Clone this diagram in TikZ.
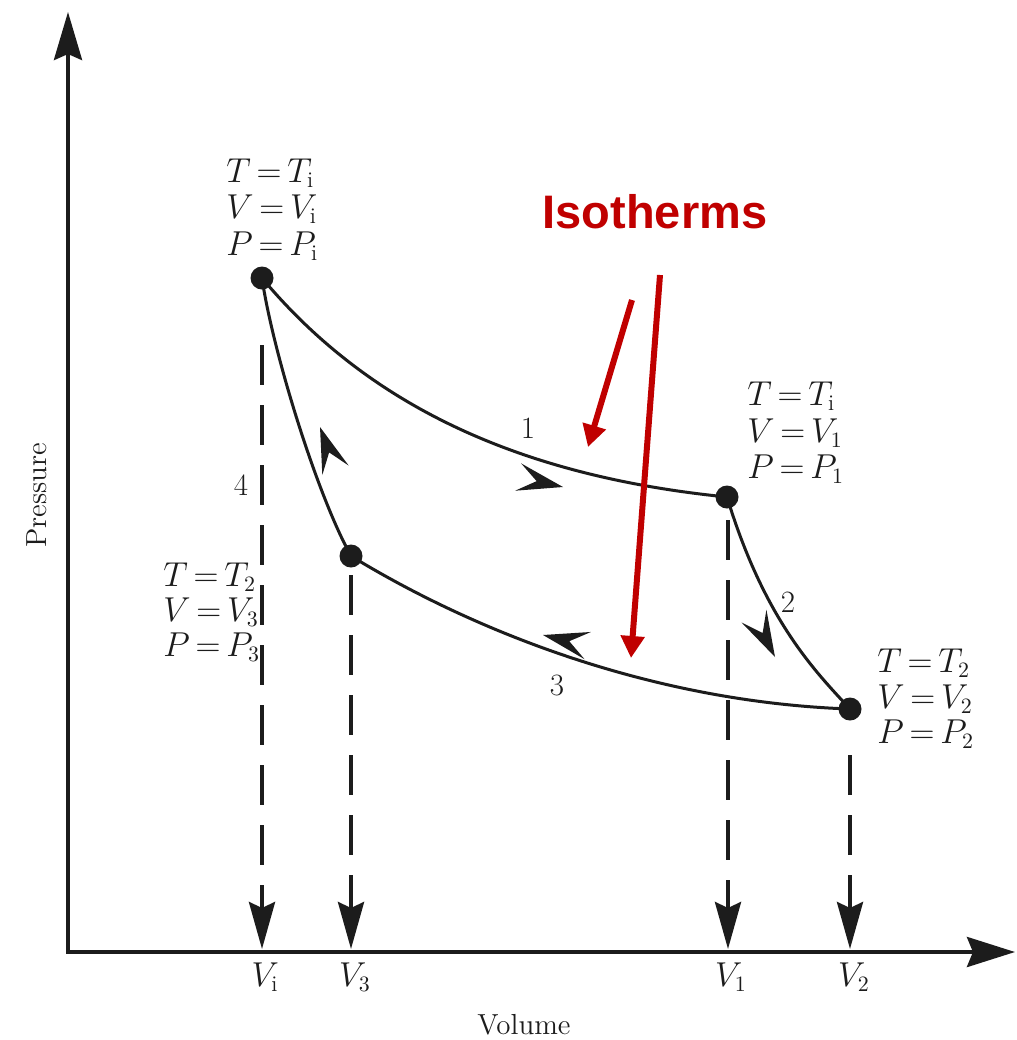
\documentclass[tikz,border=0pt]{standalone}
\usepackage{fontspec}
\setsansfont{Liberation Sans}
\usetikzlibrary{arrows.meta}
\definecolor{isored}{RGB}{192,0,0}
\definecolor{ink}{RGB}{28,28,28}
\newcommand\cyclehead[2]{\fill[ink,shift={#1},rotate=#2] (0,0) -- (-46,14) -- (-27,0) -- (-46,-14) -- cycle;}
\begin{document}
\begin{tikzpicture}[x=0.5pt,y=-0.5pt,
  dot/.style={circle,fill=ink,inner sep=0pt,minimum size=11.5pt},
  curve/.style={ink,line width=1.5pt},
  axisline/.style={ink,line width=2pt,line join=miter},
  dropline/.style={ink,line width=2pt,dash pattern=on 20pt off 10pt,-{Stealth[length=23.5pt,width=13pt,inset=3pt]}},
  redarrow/.style={isored,line width=3pt,-{Triangle[length=11pt,width=11.5pt]}},
  lbl/.style={ink,font=\fontsize{16}{19}\selectfont,inner sep=0pt,anchor=base west},
  axlbl/.style={ink,font=\fontsize{16}{19}\selectfont,inner sep=0pt,anchor=base},
  num/.style={ink,font=\fontsize{15.5}{18}\selectfont,inner sep=0pt},
  title/.style={ink,font=\fontsize{14.5}{17}\selectfont,inner sep=0pt}]
\useasboundingbox[fill=white] (0,0) rectangle (1017,1040);

% axes
\coordinate (ytop) at (68,12);
\coordinate (O) at (68,952);
\coordinate (xend) at (1015,952);
\draw[axisline,{Stealth[length=24pt,width=14pt,inset=3pt]}-{Stealth[length=24pt,width=15pt,inset=3pt]}] (ytop) -- (O) -- (xend);

% state points
\node[dot] (Pi) at (262,278) {};
\node[dot] (P1) at (727,497) {};
\node[dot] (P2) at (850,709) {};
\node[dot] (P3) at (351,556) {};

% cycle
\draw[curve] (Pi.center) .. controls (372,410) and (527,477) .. (P1.center);
\draw[curve] (P1.center) .. controls (765,622) and (817,673) .. (P2.center);
\draw[curve] (P3.center) .. controls (472,630) and (650,702) .. (P2.center);
\draw[curve] (Pi.center) .. controls (272,348) and (316,493) .. (P3.center);

% flow arrowheads
\cyclehead{(563,487)}{-12.5}
\cyclehead{(775,657)}{-62.8}
\cyclehead{(543,635)}{166.7}
\cyclehead{(320,427)}{109.7}

% drop lines
\coordinate (ai) at (262,949);
\coordinate (a3) at (351,949);
\coordinate (a1) at (728,949);
\coordinate (a2) at (850,949);
\draw[dropline] ([yshift=-33.5pt]Pi.center) -- (ai);
\draw[dropline] ([yshift=-9.5pt]P3.center) -- (a3);
\draw[dropline] ([xshift=0.5pt,yshift=-11.5pt]P1.center) -- (a1);
\draw[dropline] ([yshift=-23pt]P2.center) -- (a2);

% state labels
\node[lbl] (Ti) at (226,182) {$T\,{=}\,T_{\mathrm i}$};
\node[lbl] (Vi) at (226,218) {$V\,{=}\,V_{\mathrm i}$};
\node[lbl] (Pil) at (226,255) {$P\,{=}\,P_{\mathrm i}$};

\node[lbl] (T1) at (747,405) {$T\,{=}\,T_{\mathrm i}$};
\node[lbl] (V1) at (747,442) {$V\,{=}\,V_{1}$};
\node[lbl] (P1l) at (747,478) {$P\,{=}\,P_{1}$};

\node[lbl] (T2) at (877,672) {$T\,{=}\,T_{2}$};
\node[lbl] (V2) at (877,708) {$V\,{=}\,V_{2}$};
\node[lbl] (P2l) at (877,743) {$P\,{=}\,P_{2}$};

\node[lbl] (T3) at (163,586) {$T\,{=}\,T_{2}$};
\node[lbl] (V3) at (163,621) {$V\,{=}\,V_{3}$};
\node[lbl] (P3l) at (163,656) {$P\,{=}\,P_{3}$};

% process numbers
\node[num] (n1) at (528,428) {1};
\node[num] (n2) at (788,602) {2};
\node[num] (n3) at (557,685) {3};
\node[num] (n4) at (241,485) {4};

% axis tick labels
\node[axlbl] (xVi) at (265,986) {$V_{\mathrm i}$};
\node[axlbl] (xV3) at (355,986) {$V_{3}$};
\node[axlbl] (xV1) at (731,986) {$V_{1}$};
\node[axlbl] (xV2) at (854,986) {$V_{2}$};

% axis titles
\node[title] (vol) at (524,1025) {Volume};
\node[title,rotate=90] (pres) at (37,495) {Pressure};

% isotherms
\node[isored,font=\sffamily\bfseries\fontsize{23.5}{26}\selectfont,inner sep=0pt] (iso) at (655,212) {Isotherms};
\coordinate (r1s) at (632,300);
\coordinate (r1e) at (588,447);
\coordinate (r2s) at (660,275);
\coordinate (r2e) at (631,658);
\draw[redarrow] (r1s) -- (r1e);
\draw[redarrow] (r2s) -- (r2e);
\end{tikzpicture}
\end{document}
